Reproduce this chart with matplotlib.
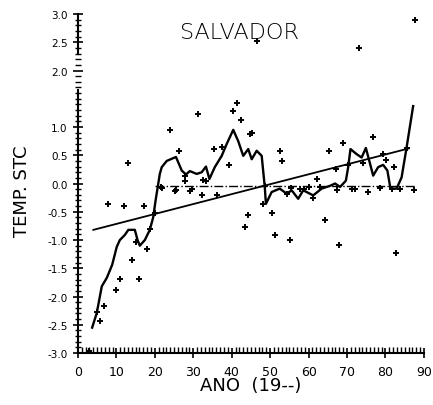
import matplotlib
matplotlib.use("Agg")
import matplotlib.pyplot as plt
from matplotlib.ticker import MultipleLocator

# pontos anuais (ano 19--, anomalia)
anos = [3, 4.9, 5.7, 6.8, 9.8, 10.9, 14.1, 15.1, 15.9, 18.0, 18.7, 7.9, 12.0, 17.2,
        20.0, 21.5, 21.9, 23.9, 25.2, 25.5, 26.4, 27.8, 27.8, 29.1, 29.6, 31.3,
        32.2, 32.6, 13.1, 33.3, 35.4, 36.3, 37.6, 39.4, 40.4, 41.3, 42.4, 44.7,
        45.4, 46.5, 43.4, 44.3, 48.2, 48.6, 50.4, 51.3, 52.5, 53.2, 54.3, 55.2,
        55.5, 57.8, 60.0, 61.2, 62.3, 64.3, 65.4, 67.1, 67.3, 68.0, 69.0, 70.3,
        71.2, 72.1, 73.2, 74.1, 75.5, 76.8, 78.6, 79.3, 80.1, 81.6, 82.2, 82.7,
        83.8, 85.6, 87.4, 87.7, 63.0, 58.8]
temps = [-2.97, -2.28, -2.44, -2.16, -1.89, -1.69, -1.35, -1.03, -1.69, -1.16, -0.81,
         -0.36, -0.39, -0.40, -0.53, -0.06, -0.08, 0.94, -0.14, -0.12, 0.57, 0.14,
         0.05, -0.14, -0.09, 1.23, -0.21, 0.06, 0.36, 0.04, 0.61, -0.21, 0.65, 0.32,
         1.28, 1.43, 1.12, 0.88, 0.89, 2.52, -0.77, -0.56, -0.37, -0.04, -0.52, -0.91,
         0.58, 0.39, -0.18, -1.00, -0.08, -0.09, -0.07, -0.25, 0.08, -0.65, 0.58,
         0.26, -0.12, -1.09, 0.71, 0.32, -0.10, -0.10, 2.39, 0.36, -0.15, 0.82,
         -0.08, 0.52, 0.42, -0.09, 0.30, -1.23, -0.09, 0.63, -0.12, 2.89, -0.06, -0.10]

# media movel
mm_anos = [3.7, 4.9, 6.2, 7.5, 8.9, 10.1, 10.9, 12.2, 13.1, 14.8, 15.5, 16.1, 17.4,
           18.7, 19.6, 20.2, 20.9, 21.3, 21.8, 23.1, 25.5, 27.0, 28.1, 29.1, 30.9,
           32.2, 33.3, 34.2, 35.6, 37.4, 38.7, 40.4, 41.7, 43.0, 44.3, 45.2, 46.5,
           47.8, 48.6, 48.9, 50.4, 52.5, 54.3, 55.6, 57.3, 58.6, 61.2, 63.4, 65.6,
           66.9, 68.2, 69.7, 70.3, 70.9, 72.5, 73.8, 74.9, 75.8, 76.8, 78.1, 79.4,
           80.5, 81.3, 82.9, 84.2, 85.5, 87.2]
mm_vals = [-2.55, -2.29, -1.82, -1.67, -1.44, -1.12, -1.00, -0.91, -0.82, -0.82, -1.00,
           -1.10, -1.00, -0.82, -0.59, -0.30, 0.00, 0.17, 0.29, 0.40, 0.47, 0.23, 0.16,
           0.22, 0.17, 0.20, 0.30, 0.08, 0.29, 0.49, 0.70, 0.95, 0.75, 0.49, 0.61, 0.43,
           0.58, 0.49, -0.06, -0.36, -0.15, -0.09, -0.18, -0.12, -0.27, -0.12, -0.21,
           -0.09, -0.04, 0.00, -0.06, 0.05, 0.29, 0.61, 0.52, 0.46, 0.63, 0.40, 0.14,
           0.29, 0.33, 0.23, -0.09, -0.09, 0.11, 0.64, 1.37]

# tendencia linear e media
tend_anos = [4, 86]
tend_vals = [-0.82, 0.62]
media_anos = [20, 88]
media_vals = [-0.05, -0.05]

yticks = [-3.0, -2.5, -2.0, -1.5, -1.0, -0.5, 0.0, 0.5, 1.0, 2.0, 2.5, 3.0]

fig = plt.figure(figsize=(4.33, 4.06), dpi=100)
ax = fig.add_axes([0.180, 0.128, 0.799, 0.835])

ax.plot(anos, temps, "+", color="black", ms=5, mew=1.4, clip_on=False)
ax.plot(mm_anos, mm_vals, "-", color="black", lw=1.7)
ax.plot(tend_anos, tend_vals, "-", color="black", lw=1.3)
ax.plot(media_anos, media_vals, "-.", color="black", lw=1.0)

ax.set_xlim(0, 90)
ax.set_ylim(-3, 3)
ax.set_xticks(range(0, 91, 10))
ax.xaxis.set_minor_locator(MultipleLocator(1))
ax.set_yticks(yticks)
ax.set_yticklabels(["%.1f" % v for v in yticks])
ax.yaxis.set_minor_locator(MultipleLocator(0.1))

for s in ["top", "right", "left"]:
    ax.spines[s].set_visible(False)
ax.spines["bottom"].set_linewidth(1.5)
# eixo y com falha entre 1.65 e 2.3
ax.plot([0, 0], [-3, 1.65], color="black", lw=1.5, clip_on=False)
ax.plot([0, 0], [2.3, 3.0], color="black", lw=1.5, clip_on=False)

ax.tick_params(axis="x", which="major", direction="inout", length=7, width=1.2,
               labelsize=9, pad=5)
ax.tick_params(axis="x", which="minor", direction="in", length=4, width=1)
ax.tick_params(axis="y", which="major", direction="inout", length=7, width=1.2,
               labelsize=7.5, pad=4)
ax.tick_params(axis="y", which="minor", direction="inout", length=4, width=1)

ax.set_xlabel("ANO  (19--)", fontsize=13, labelpad=-1)
fig.text(0.05, 0.53, "TEMP. STC", rotation=90, fontsize=13, ha="center", va="center")
ax.text(42, 2.68, "SALVADOR", fontsize=16, ha="center", va="center",
        fontweight="light")

fig.savefig("out.png", dpi=100)
